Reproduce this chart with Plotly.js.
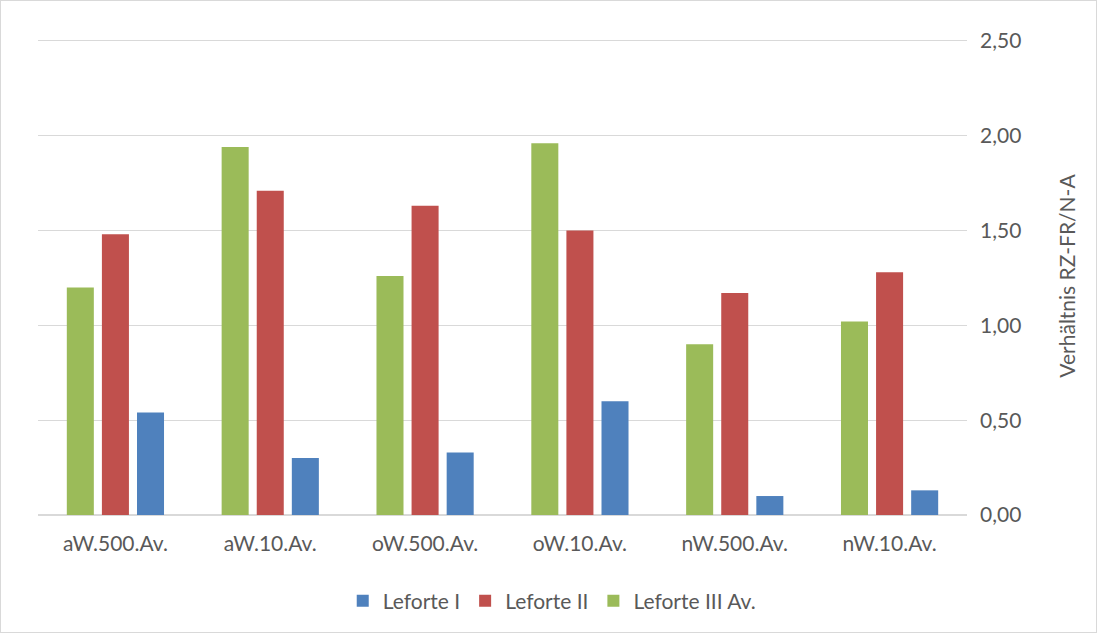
<!DOCTYPE html>
<html><head><meta charset="utf-8">
<script src="https://cdn.plot.ly/plotly-3.0.1.min.js"></script>
<style>html,body{margin:0;padding:0;background:#fff}#c{width:1095px;height:631px;border:1px solid #d9d9d9}</style>
</head><body><div id="c"></div>
<script>
const categories = ["aW.500.Av.", "aW.10.Av.", "oW.500.Av.", "oW.10.Av.", "nW.500.Av.", "nW.10.Av."];
const leforteI = [0.54, 0.30, 0.33, 0.60, 0.10, 0.13];
const leforteII = [1.48, 1.71, 1.63, 1.50, 1.17, 1.28];
const leforteIII = [1.20, 1.94, 1.26, 1.96, 0.90, 1.02];
const yTicks = [0, 0.5, 1, 1.5, 2, 2.5];

const font = 'Lato, "Noto Sans", sans-serif';
const traces = [
  {type:'bar', name:'Leforte III Av.', x:categories, y:leforteIII, marker:{color:'#9bbb59'}},
  {type:'bar', name:'Leforte II', x:categories, y:leforteII, marker:{color:'#c0504d'}},
  {type:'bar', name:'Leforte I', x:categories, y:leforteI, marker:{color:'#4f81bd'}}
];
const layout = {
  width:1095, height:631,
  margin:{l:37, r:129, t:36, b:116},
  paper_bgcolor:'#fff', plot_bgcolor:'#fff',
  separators:', ',
  barmode:'group', bargap:0.32, bargroupgap:0.23,
  font:{family:font, color:'#595959', size:21},
  xaxis:{type:'category', showgrid:false, zeroline:false, showline:false, ticks:'', ticklabelstandoff:14, tickfont:{size:21, color:'#595959'}},
  yaxis:{side:'right', range:[0,2.52], tickvals:yTicks, tickformat:'.2f', showgrid:true, gridcolor:'#d9d9d9', gridwidth:1.3,
    zeroline:true, zerolinecolor:'#d9d9d9', zerolinewidth:1.3, showline:false, ticks:'', ticklabelstandoff:12,
    tickfont:{size:21, color:'#595959'},
    title:{text:'Verhältnis RZ-FR/N-A', font:{size:21, color:'#595959'}, standoff:39}},
  legend:{orientation:'h', x:0.553, xanchor:'center', y:-0.135, yanchor:'top', traceorder:'reversed', font:{size:21, color:'#595959'}},
  showlegend:true
};
Plotly.newPlot('c', traces, layout, {staticPlot:true});
</script></body></html>
